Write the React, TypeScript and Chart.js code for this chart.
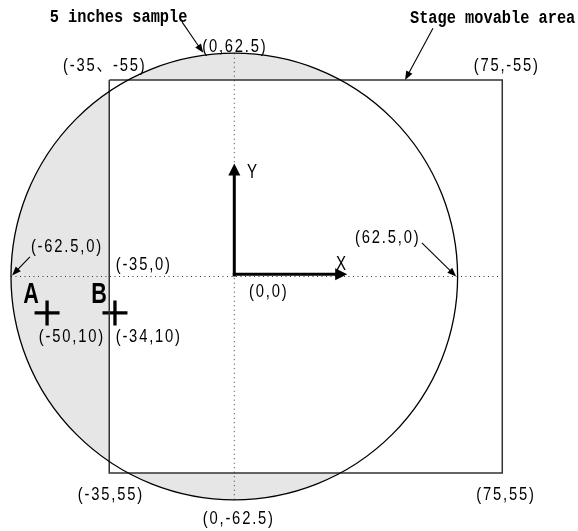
import React, { useEffect, useRef } from "react";
import { Chart, registerables } from "chart.js";

Chart.register(...registerables);

// ---- data (diagram units: x to the right, y downward) ----
const WAFER_RADIUS = 62.5;
const STAGE_X = [-35, 75];
const STAGE_Y = [-55, 55];
const CENTER_LINE_X = [-62.5, 74];
const CENTER_LINE_Y = [-62.5, 62.5];
const POINT_NAMES = ["A", "B"];
const POINT_X = [-52.4, -33.4];
const POINT_Y = [10.2, 10.2];
const AXIS_ARROW_LEN = 31.6;

const LABEL_TEXTS = [
  "(0,62.5)",
  "(-35、-55)",
  "(75,-55)",
  "(-62.5,0)",
  "(-35,0)",
  "(0,0)",
  "(62.5,0)",
  "(-50,10)",
  "(-34,10)",
  "(-35,55)",
  "(75,55)",
  "(0,-62.5)",
];
const LABEL_X = [-0.1, -36.5, 76.0, -47.1, -25.6, 9.4, 42.7, -45.7, -24.2, -34.8, 75.8, 1.0];
const LABEL_Y = [-64.2, -58.9, -58.9, -8.3, -3.2, 4.3, -10.8, 16.9, 16.9, 61.2, 61.2, 67.9];

const TITLE_TEXTS = ["5 inches sample", "Stage movable area"];
const TITLE_X = [-32.4, 72.3];
const TITLE_Y = [-72.6, -72.3];

const POINTER_FROM_X = [-14.6, 55.6, -57.2, 52.5];
const POINTER_FROM_Y = [-71.2, -69.5, -5.5, -9.4];
const POINTER_TO_X = [-8.7, 47.8, -62.2, 62.1];
const POINTER_TO_Y = [-62.6, -55.0, -0.3, 0];

const AXIS_NAMES = ["Y", "X"];
const AXIS_NAME_X = [5.0, 29.9];
const AXIS_NAME_Y = [-29.2, -3.5];

// view window (diagram units)
const VIEW_X = [-65.575, 96.194];
const VIEW_Y = [-77.386, 71.229];

function arrow(
  ctx: CanvasRenderingContext2D,
  x1: number,
  y1: number,
  x2: number,
  y2: number,
  lw: number,
  headLen: number,
  headW: number
) {
  const ang = Math.atan2(y2 - y1, x2 - x1);
  const bx = x2 - Math.cos(ang) * headLen;
  const by = y2 - Math.sin(ang) * headLen;
  ctx.save();
  ctx.strokeStyle = "#000";
  ctx.fillStyle = "#000";
  ctx.lineWidth = lw;
  ctx.beginPath();
  ctx.moveTo(x1, y1);
  ctx.lineTo(bx + Math.cos(ang) * 1, by + Math.sin(ang) * 1);
  ctx.stroke();
  ctx.beginPath();
  ctx.moveTo(x2, y2);
  ctx.lineTo(bx + Math.sin(ang) * headW / 2, by - Math.cos(ang) * headW / 2);
  ctx.lineTo(bx - Math.sin(ang) * headW / 2, by + Math.cos(ang) * headW / 2);
  ctx.closePath();
  ctx.fill();
  ctx.restore();
}

function squeezedText(
  ctx: CanvasRenderingContext2D,
  text: string,
  x: number,
  y: number,
  font: string,
  sx: number,
  spacing: number
) {
  ctx.save();
  ctx.font = font;
  (ctx as any).letterSpacing = spacing + "px";
  ctx.textAlign = "center";
  ctx.textBaseline = "middle";
  ctx.fillStyle = "#000";
  ctx.translate(x + (spacing * sx) / 2, y);
  ctx.scale(sx, 1);
  ctx.fillText(text, 0, 0);
  ctx.restore();
}

const diagramPlugin = {
  id: "diagram",
  beforeDatasetsDraw(chart: any) {
    const ctx: CanvasRenderingContext2D = chart.ctx;
    const xs = chart.scales.x;
    const ys = chart.scales.y;
    const cx = xs.getPixelForValue(0);
    const cy = ys.getPixelForValue(0);
    const r = xs.getPixelForValue(WAFER_RADIUS) - cx;
    ctx.save();
    ctx.fillStyle = "#e6e6e6";
    ctx.beginPath();
    ctx.arc(cx, cy, r, 0, Math.PI * 2);
    ctx.fill();
    const rx1 = xs.getPixelForValue(STAGE_X[0]);
    const rx2 = xs.getPixelForValue(STAGE_X[1]);
    const ry1 = ys.getPixelForValue(STAGE_Y[0]);
    const ry2 = ys.getPixelForValue(STAGE_Y[1]);
    ctx.fillStyle = "#ffffff";
    ctx.fillRect(rx1, ry1, rx2 - rx1, ry2 - ry1);
    ctx.restore();
  },
  afterDatasetsDraw(chart: any) {
    const ctx: CanvasRenderingContext2D = chart.ctx;
    const xs = chart.scales.x;
    const ys = chart.scales.y;
    const px = (v: number) => xs.getPixelForValue(v);
    const py = (v: number) => ys.getPixelForValue(v);
    const cx = px(0);
    const cy = py(0);
    const r = px(WAFER_RADIUS) - cx;

    ctx.save();
    ctx.strokeStyle = "#000";
    ctx.lineWidth = 1.3;
    ctx.beginPath();
    ctx.arc(cx, cy, r, 0, Math.PI * 2);
    ctx.stroke();
    ctx.restore();

    // coordinate axes arrows
    arrow(ctx, px(0), py(0), px(0), py(-AXIS_ARROW_LEN), 3, 12, 12);
    arrow(ctx, px(0) - 1.5, py(-0.6), px(AXIS_ARROW_LEN), py(-0.6), 3, 12, 12);

    // pointer arrows
    for (let i = 0; i < POINTER_FROM_X.length; i++) {
      arrow(
        ctx,
        px(POINTER_FROM_X[i]),
        py(POINTER_FROM_Y[i]),
        px(POINTER_TO_X[i]),
        py(POINTER_TO_Y[i]),
        1.1,
        9,
        7
      );
    }

    const labelFont = "18px 'Liberation Sans', Arial, 'Noto Sans CJK JP', sans-serif";
    for (let i = 0; i < LABEL_TEXTS.length; i++) {
      squeezedText(ctx, LABEL_TEXTS[i], px(LABEL_X[i]), py(LABEL_Y[i]), labelFont, 0.82, 2.2);
    }

    const titleFont = "bold 18px 'Liberation Mono', 'DejaVu Sans Mono', monospace";
    for (let i = 0; i < TITLE_TEXTS.length; i++) {
      squeezedText(ctx, TITLE_TEXTS[i], px(TITLE_X[i]), py(TITLE_Y[i]), titleFont, 0.85, 0);
    }

    const axisFont = "21px 'Liberation Sans', sans-serif";
    for (let i = 0; i < AXIS_NAMES.length; i++) {
      squeezedText(ctx, AXIS_NAMES[i], px(AXIS_NAME_X[i]), py(AXIS_NAME_Y[i]), axisFont, 0.72, 0);
    }

    const pointFont = "bold 30px 'Liberation Sans', sans-serif";
    for (let i = 0; i < POINT_NAMES.length; i++) {
      squeezedText(ctx, POINT_NAMES[i], px(POINT_X[i]) - 16, py(POINT_Y[i]) - 18, pointFont, 0.72, 0);
    }
  },
};

export default function App() {
  const ref = useRef<HTMLCanvasElement | null>(null);
  useEffect(() => {
    if (!ref.current) return;
    const rectPts = [
      { x: STAGE_X[0], y: STAGE_Y[0] },
      { x: STAGE_X[1], y: STAGE_Y[0] },
      { x: STAGE_X[1], y: STAGE_Y[1] },
      { x: STAGE_X[0], y: STAGE_Y[1] },
      { x: STAGE_X[0], y: STAGE_Y[0] },
    ];
    const chart = new Chart(ref.current, {
      type: "scatter",
      data: {
        datasets: [
          {
            data: [
              { x: CENTER_LINE_X[0], y: 0 },
              { x: CENTER_LINE_X[1], y: 0 },
            ],
            showLine: true,
            borderColor: "#333",
            borderWidth: 1,
            borderDash: [1, 3.5],
            pointRadius: 0,
            clip: false,
          } as any,
          {
            data: [
              { x: 0, y: CENTER_LINE_Y[0] },
              { x: 0, y: CENTER_LINE_Y[1] },
            ],
            showLine: true,
            borderColor: "#333",
            borderWidth: 1,
            borderDash: [1, 3.5],
            pointRadius: 0,
            clip: false,
          } as any,
          {
            data: rectPts,
            showLine: true,
            borderColor: "#333",
            borderWidth: 1.5,
            pointRadius: 0,
            clip: false,
          } as any,
          {
            data: POINT_X.map((x, i) => ({ x, y: POINT_Y[i] })),
            showLine: false,
            pointStyle: "cross",
            pointRadius: 12.5,
            pointBorderWidth: 3.3,
            borderColor: "#000",
            pointBorderColor: "#000",
            clip: false,
          } as any,
        ],
      },
      options: {
        animation: false,
        responsive: false,
        events: [],
        layout: { padding: 0, autoPadding: false } as any,
        plugins: {
          legend: { display: false },
          tooltip: { enabled: false },
          title: { display: false },
        },
        scales: {
          x: { type: "linear", display: false, min: VIEW_X[0], max: VIEW_X[1] },
          y: { type: "linear", display: false, reverse: true, min: VIEW_Y[0], max: VIEW_Y[1] },
        },
      },
      plugins: [diagramPlugin],
    });
    return () => chart.destroy();
  }, []);
  return (
    <div style={{ position: "fixed", left: 0, top: 0, width: 578, height: 531, background: "#fff" }}>
      <canvas ref={ref} width={578} height={531} style={{ display: "block" }} />
    </div>
  );
}
